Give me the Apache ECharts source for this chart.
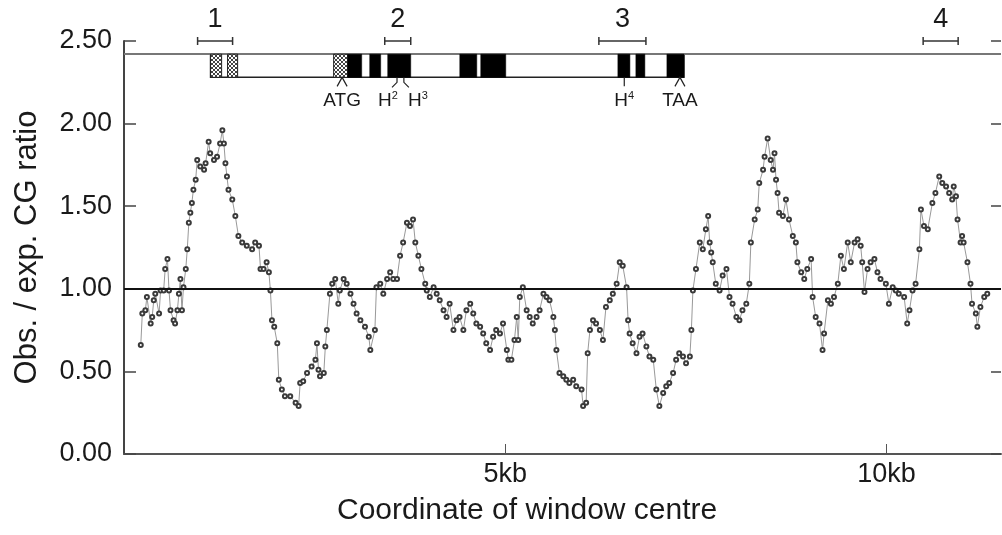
<!DOCTYPE html>
<html>
<head>
<meta charset="utf-8">
<title>Obs/exp CG ratio</title>
<script src="https://cdn.jsdelivr.net/npm/echarts@6/dist/echarts.min.js"></script>
<style>
  html, body { margin: 0; padding: 0; background: #fff; }
  #chart { width: 1002px; height: 535px; }
</style>
</head>
<body>
<div id="chart"></div>
<script>
const windowKb = [
  0.22, 0.24, 0.28, 0.30, 0.35, 0.37, 0.39, 0.41, 0.46, 0.48, 0.52, 0.54, 0.57, 0.59, 0.61, 0.65, 0.67, 0.70, 0.72, 0.74,
  0.76, 0.78, 0.81, 0.83, 0.85, 0.87, 0.89, 0.91, 0.94, 0.96, 1.00, 1.05, 1.07, 1.11, 1.13, 1.18, 1.22, 1.26, 1.29, 1.31,
  1.33, 1.35, 1.37, 1.42, 1.46, 1.50, 1.55, 1.61, 1.68, 1.72, 1.77, 1.79, 1.83, 1.87, 1.90, 1.92, 1.94, 1.97, 2.01, 2.03,
  2.07, 2.11, 2.18, 2.25, 2.29, 2.31, 2.35, 2.40, 2.46, 2.51, 2.53, 2.55, 2.57, 2.62, 2.64, 2.66, 2.70, 2.73, 2.77, 2.81,
  2.83, 2.88, 2.92, 2.97, 3.01, 3.05, 3.10, 3.16, 3.21, 3.23, 3.29, 3.31, 3.36, 3.40, 3.45, 3.49, 3.53, 3.58, 3.62, 3.66,
  3.71, 3.75, 3.79, 3.82, 3.86, 3.90, 3.95, 3.97, 4.01, 4.06, 4.10, 4.14, 4.19, 4.23, 4.27, 4.32, 4.36, 4.40, 4.45, 4.49,
  4.54, 4.58, 4.62, 4.67, 4.71, 4.75, 4.80, 4.84, 4.88, 4.93, 4.97, 5.02, 5.04, 5.08, 5.12, 5.15, 5.17, 5.19, 5.23, 5.28,
  5.32, 5.36, 5.41, 5.45, 5.50, 5.54, 5.58, 5.63, 5.65, 5.67, 5.71, 5.76, 5.80, 5.84, 5.89, 5.93, 6.00, 6.02, 6.06, 6.08,
  6.11, 6.15, 6.19, 6.24, 6.28, 6.32, 6.37, 6.41, 6.46, 6.50, 6.54, 6.59, 6.61, 6.63, 6.67, 6.72, 6.76, 6.80, 6.85, 6.89,
  6.94, 6.98, 7.02, 7.07, 7.11, 7.15, 7.20, 7.24, 7.28, 7.33, 7.37, 7.42, 7.44, 7.46, 7.50, 7.55, 7.59, 7.63, 7.66, 7.68,
  7.70, 7.72, 7.76, 7.81, 7.85, 7.90, 7.94, 7.98, 8.03, 8.07, 8.11, 8.16, 8.20, 8.22, 8.27, 8.31, 8.33, 8.38, 8.40, 8.44,
  8.48, 8.51, 8.53, 8.55, 8.57, 8.59, 8.64, 8.68, 8.72, 8.77, 8.81, 8.83, 8.88, 8.92, 8.96, 9.01, 9.03, 9.07, 9.12, 9.16,
  9.18, 9.23, 9.27, 9.31, 9.36, 9.40, 9.44, 9.49, 9.53, 9.58, 9.62, 9.66, 9.68, 9.71, 9.75, 9.79, 9.84, 9.88, 9.92, 9.99,
  10.03, 10.08, 10.12, 10.16, 10.23, 10.27, 10.30, 10.34, 10.38, 10.43, 10.45, 10.49, 10.54, 10.60, 10.64, 10.69, 10.73, 10.78, 10.82, 10.86,
  10.88, 10.91, 10.93, 10.97, 10.99, 11.01, 11.06, 11.10, 11.12, 11.17, 11.19, 11.23, 11.28, 11.32
];
const cgRatio = [
  0.66, 0.85, 0.87, 0.95, 0.79, 0.83, 0.93, 0.97, 0.85, 0.99, 0.99, 1.12, 1.18, 0.99, 0.87, 0.81, 0.79, 0.87, 0.97, 1.06,
  0.87, 1.01, 1.12, 1.24, 1.40, 1.46, 1.52, 1.60, 1.66, 1.78, 1.74, 1.72, 1.76, 1.89, 1.82, 1.78, 1.80, 1.88, 1.96, 1.88,
  1.76, 1.68, 1.60, 1.54, 1.44, 1.32, 1.28, 1.26, 1.24, 1.28, 1.26, 1.12, 1.12, 1.16, 1.10, 0.99, 0.81, 0.77, 0.67, 0.45,
  0.39, 0.35, 0.35, 0.31, 0.29, 0.43, 0.44, 0.49, 0.53, 0.57, 0.67, 0.51, 0.47, 0.49, 0.65, 0.75, 0.97, 1.03, 1.06, 0.91,
  0.99, 1.06, 1.03, 0.97, 0.91, 0.85, 0.81, 0.77, 0.71, 0.63, 0.75, 1.01, 1.03, 0.97, 1.06, 1.10, 1.06, 1.06, 1.20, 1.28,
  1.40, 1.38, 1.42, 1.28, 1.20, 1.12, 1.03, 0.99, 0.95, 1.01, 0.97, 0.93, 0.87, 0.83, 0.91, 0.75, 0.81, 0.83, 0.75, 0.87,
  0.91, 0.85, 0.79, 0.77, 0.73, 0.67, 0.63, 0.71, 0.75, 0.73, 0.79, 0.63, 0.57, 0.57, 0.69, 0.83, 0.69, 0.95, 1.01, 0.87,
  0.83, 0.79, 0.83, 0.87, 0.97, 0.95, 0.93, 0.83, 0.75, 0.63, 0.49, 0.47, 0.45, 0.43, 0.45, 0.41, 0.39, 0.29, 0.31, 0.61,
  0.75, 0.81, 0.79, 0.75, 0.69, 0.89, 0.93, 0.97, 1.03, 1.16, 1.14, 1.01, 0.81, 0.73, 0.67, 0.61, 0.71, 0.73, 0.65, 0.59,
  0.57, 0.39, 0.29, 0.37, 0.41, 0.43, 0.49, 0.57, 0.61, 0.59, 0.55, 0.59, 0.75, 0.99, 1.12, 1.28, 1.24, 1.36, 1.44, 1.28,
  1.22, 1.16, 1.03, 0.99, 1.08, 1.12, 0.95, 0.91, 0.83, 0.81, 0.87, 0.91, 1.03, 1.28, 1.42, 1.48, 1.64, 1.72, 1.80, 1.91,
  1.78, 1.72, 1.82, 1.66, 1.58, 1.46, 1.44, 1.54, 1.42, 1.32, 1.28, 1.16, 1.10, 1.06, 1.12, 1.18, 0.95, 0.83, 0.79, 0.63,
  0.73, 0.93, 0.91, 0.95, 1.03, 1.20, 1.12, 1.28, 1.16, 1.28, 1.30, 1.26, 1.16, 0.98, 1.12, 1.16, 1.18, 1.10, 1.06, 1.03,
  0.91, 1.01, 0.99, 0.97, 0.95, 0.79, 0.87, 0.99, 1.03, 1.24, 1.48, 1.38, 1.36, 1.52, 1.58, 1.68, 1.64, 1.62, 1.58, 1.54,
  1.62, 1.56, 1.42, 1.28, 1.32, 1.28, 1.16, 1.03, 0.91, 0.85, 0.77, 0.89, 0.95, 0.97
];

// gene model drawn along the top of the plot
const geneStart = 1.135;
const geneEnd = 7.343;
const geneTop = 2.42;
const geneBottom = 2.28;
const exonStart = [1.135, 1.358, 2.749, 2.933, 3.222, 3.458, 4.403, 4.678, 6.476, 6.712, 7.119];
const exonEnd   = [1.280, 1.490, 2.933, 3.117, 3.366, 3.760, 4.626, 5.006, 6.634, 6.830, 7.343];
const exonKind  = ['utr', 'utr', 'utr', 'cds', 'cds', 'cds', 'cds', 'cds', 'cds', 'cds', 'cds'];

const markerKb    = [2.86, 3.58, 3.67, 6.56, 7.29];
const markerLabel = ['ATG', 'H2', 'H3', 'H4', 'TAA'];
const markerShape = ['caret', 'left', 'right', 'tick', 'caret'];

const regionStart = [0.965, 3.419, 6.227, 10.479];
const regionEnd   = [1.424, 3.760, 6.844, 10.938];
const regionLabel = ['1', '2', '3', '4'];

const yTicks = [0, 0.5, 1, 1.5, 2, 2.5];
const refRatio = 1;

const FONT = '"Liberation Sans", Arial, Helvetica, sans-serif';
const INK = '#1a1a1a';

// small cross-hatch for the untranslated exons
const hatch = document.createElement('canvas');
hatch.width = 4;
hatch.height = 4;
(function () {
  const c = hatch.getContext('2d');
  c.fillStyle = '#fff';
  c.fillRect(0, 0, 4, 4);
  c.strokeStyle = '#444';
  c.lineWidth = 1;
  c.beginPath();
  c.moveTo(0, 4); c.lineTo(4, 0);
  c.moveTo(0, 0); c.lineTo(4, 4);
  c.stroke();
})();

const chart = echarts.init(document.getElementById('chart'), null, { renderer: 'canvas' });

const valueAxisBase = {
  type: 'value',
  min: yTicks[0],
  max: yTicks[yTicks.length - 1],
  interval: 0.5,
  splitLine: { show: false }
};

const option = {
  animation: false,
  backgroundColor: '#fff',
  grid: { left: 124, right: 1, top: 41, bottom: 81, containLabel: false, outerBoundsMode: 'none' },
  xAxis: {
    type: 'value',
    min: 0,
    max: 11.5,
    interval: 5,
    splitLine: { show: false },
    axisLine: { lineStyle: { color: '#555', width: 2 } },
    axisTick: { inside: true, length: 10, lineStyle: { color: '#555', width: 1 } },
    axisLabel: {
      margin: 7,
      color: INK,
      fontFamily: FONT,
      fontSize: 27,
      showMinLabel: false,
      showMaxLabel: false,
      formatter: (v) => (v === 0 ? '' : v + 'kb')
    }
  },
  yAxis: [
    Object.assign({}, valueAxisBase, {
      position: 'left',
      name: 'Obs. / exp. CG ratio',
      nameLocation: 'middle',
      nameRotate: 90,
      nameGap: 81,
      nameTextStyle: { color: INK, fontFamily: FONT, fontSize: 31 },
      axisLine: { lineStyle: { color: '#444', width: 2 } },
      axisTick: { inside: true, length: 12, lineStyle: { color: '#444', width: 1.5 } },
      axisLabel: {
        margin: 12,
        color: INK,
        fontFamily: FONT,
        fontSize: 27,
        formatter: (v) => v.toFixed(2)
      }
    }),
    Object.assign({}, valueAxisBase, {
      position: 'right',
      axisLine: { show: false },
      axisTick: { show: true, inside: true, length: 10, lineStyle: { color: '#444', width: 1.5 } },
      axisLabel: { show: false }
    })
  ],
  graphic: [{
    type: 'text',
    left: 337,
    top: 496,
    style: {
      text: 'Coordinate of window centre',
      fill: INK,
      font: '30px ' + FONT
    }
  }],
  series: [
    {
      name: 'ratio',
      type: 'line',
      data: windowKb.map((x, i) => [x, cgRatio[i]]),
      symbol: 'emptyCircle',
      symbolSize: 4,
      showAllSymbol: true,
      lineStyle: { color: '#999', width: 1 },
      itemStyle: { color: '#3a3a3a', borderWidth: 1 },
      markLine: {
        silent: true,
        symbol: ['none', 'none'],
        label: { show: false },
        data: [
          { yAxis: refRatio, lineStyle: { color: '#111', width: 2, type: 'solid' } },
          { yAxis: geneTop, lineStyle: { color: '#777', width: 2, type: 'solid' } }
        ]
      },
      z: 3
    },
    {
      name: 'gene',
      type: 'custom',
      clip: false,
      data: [[geneStart, geneEnd]],
      renderItem: (params, api) => {
        const a = api.coord([api.value(0), geneTop]);
        const b = api.coord([api.value(1), geneBottom]);
        return {
          type: 'rect',
          shape: { x: a[0], y: a[1], width: b[0] - a[0], height: b[1] - a[1] },
          style: { fill: '#fff', stroke: '#222', lineWidth: 1.5 }
        };
      },
      z: 4
    },
    {
      name: 'exons',
      type: 'custom',
      clip: false,
      data: exonStart.map((s, i) => [s, exonEnd[i], i]),
      renderItem: (params, api) => {
        const a = api.coord([api.value(0), geneTop]);
        const b = api.coord([api.value(1), geneBottom]);
        const kind = exonKind[api.value(2)];
        return {
          type: 'rect',
          shape: { x: a[0], y: a[1], width: b[0] - a[0], height: b[1] - a[1] },
          style: kind === 'utr'
            ? { fill: { image: hatch, repeat: 'repeat' }, stroke: '#222', lineWidth: 1 }
            : { fill: '#000', stroke: '#000', lineWidth: 0.5 }
        };
      },
      z: 5
    },
    {
      name: 'markers',
      type: 'custom',
      clip: false,
      data: markerKb.map((x, i) => [x, i]),
      renderItem: (params, api) => {
        const i = api.value(1);
        const p = api.coord([api.value(0), geneBottom]);
        const x = p[0];
        const y = p[1];
        const shape = markerShape[i];
        let pts;
        let lx = x;
        if (shape === 'caret') pts = [[x - 5, y + 9], [x, y], [x + 5, y + 9]];
        else if (shape === 'left') { pts = [[x, y], [x, y + 5], [x - 5, y + 10]]; lx = x - 9; }
        else if (shape === 'right') { pts = [[x, y], [x, y + 5], [x + 5, y + 10]]; lx = x + 14; }
        else pts = [[x, y], [x, y + 9]];
        const lab = markerLabel[i];
        const text = lab.charAt(0) === 'H' ? '{h|H}{s|' + lab.slice(1) + '}' : '{h|' + lab + '}';
        return {
          type: 'group',
          children: [
            { type: 'polyline', shape: { points: pts }, style: { fill: null, stroke: '#222', lineWidth: 1.2 } },
            {
              type: 'text',
              x: lx,
              y: y + 23,
              style: {
                text: text,
                align: 'center',
                verticalAlign: 'middle',
                rich: {
                  h: { fontSize: 19, fontFamily: FONT, fill: INK },
                  s: { fontSize: 11, fontFamily: FONT, fill: INK, verticalAlign: 'top', padding: [0, 0, 8, 0] }
                }
              }
            }
          ]
        };
      },
      z: 6
    },
    {
      name: 'regions',
      type: 'custom',
      clip: false,
      data: regionStart.map((s, i) => [s, regionEnd[i], i]),
      renderItem: (params, api) => {
        const yv = yTicks[yTicks.length - 1];
        const a = api.coord([api.value(0), yv]);
        const b = api.coord([api.value(1), yv]);
        const y = a[1];
        return {
          type: 'group',
          children: [
            { type: 'line', shape: { x1: a[0], y1: y, x2: b[0], y2: y }, style: { stroke: '#333', lineWidth: 1.5 } },
            { type: 'line', shape: { x1: a[0], y1: y - 4, x2: a[0], y2: y + 4 }, style: { stroke: '#333', lineWidth: 1.5 } },
            { type: 'line', shape: { x1: b[0], y1: y - 4, x2: b[0], y2: y + 4 }, style: { stroke: '#333', lineWidth: 1.5 } },
            {
              type: 'text',
              x: (a[0] + b[0]) / 2,
              y: y - 21,
              style: {
                text: regionLabel[api.value(2)],
                align: 'center',
                verticalAlign: 'middle',
                fontSize: 27,
                fontFamily: FONT,
                fill: INK
              }
            }
          ]
        };
      },
      z: 6
    }
  ]
};

chart.setOption(option);

window.addEventListener('resize', () => chart.resize());
</script>
</body>
</html>
